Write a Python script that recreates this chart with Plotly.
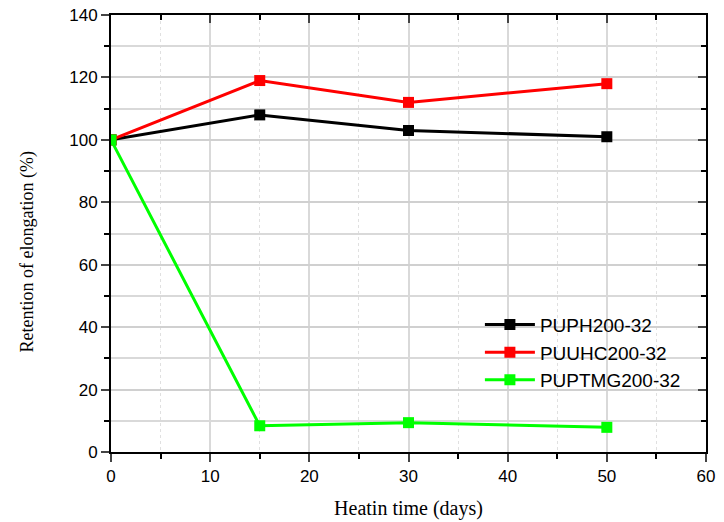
import plotly.graph_objects as go

days = [0, 15, 30, 50]
puph = [100, 108, 103, 101]
puuhc = [100, 119, 112, 118]
puptmg = [100, 8.4, 9.4, 7.9]

series = [("PUPH200-32", puph, "#000000"),
          ("PUUHC200-32", puuhc, "#ff0000"),
          ("PUPTMG200-32", puptmg, "#00ff00")]

fig = go.Figure()
for name, vals, col in series:
    fig.add_trace(go.Scatter(x=days, y=vals, name=name, mode="lines+markers",
                             line=dict(color=col, width=3),
                             marker=dict(symbol="square", size=11, color=col)))
# invisible trace for mirrored axes
fig.add_trace(go.Scatter(x=[0], y=[0], xaxis="x2", yaxis="y2", showlegend=False,
                         mode="markers", marker=dict(opacity=0), hoverinfo="skip"))

tickfont = dict(family="Liberation Sans, Arial", size=17, color="black")

fig.update_layout(
    width=724, height=522,
    margin=dict(l=111, r=18, t=15, b=70),
    plot_bgcolor="white", paper_bgcolor="white",
    showlegend=True,
    legend=dict(x=0.62, y=0.335, xanchor="left", yanchor="top",
                bgcolor="rgba(0,0,0,0)", font=dict(family="Liberation Sans, Arial", size=19, color="black"),
                itemwidth=50, tracegroupgap=0),
    xaxis=dict(range=[0, 60], dtick=10, tick0=0, ticks="outside", ticklen=8, tickwidth=2,
               showline=True, linecolor="black", linewidth=2, automargin=False,
               showgrid=True, gridcolor="#d9d9d9", gridwidth=1.5,
               minor=dict(dtick=5, ticks="outside", ticklen=5, tickwidth=2, tickcolor="black",
                          showgrid=True, gridcolor="#e0e0e0", griddash="dot", gridwidth=1),
               tickfont=tickfont, zeroline=False,
               title=dict(text="Heatin time (days)",
                          font=dict(family="Liberation Serif, Times New Roman", size=20, color="black"),
                          standoff=16)),
    yaxis=dict(range=[0, 140], dtick=20, tick0=0, ticks="outside", ticklen=8, tickwidth=2,
               showline=True, linecolor="black", linewidth=2, automargin=False,
               showgrid=True, gridcolor="#d0d0d0", gridwidth=1.5,
               minor=dict(dtick=10, ticks="outside", ticklen=5, tickwidth=2, tickcolor="black",
                          showgrid=True, gridcolor="#d9d9d9", gridwidth=1.5),
               tickfont=tickfont, zeroline=False),
    xaxis2=dict(range=[0, 60], dtick=10, overlaying="x", side="top", ticks="inside",
                ticklen=8, tickwidth=2, showline=True, linecolor="black", linewidth=2,
                showticklabels=False, showgrid=False, zeroline=False, automargin=False,
                minor=dict(dtick=5, ticks="inside", ticklen=5, tickwidth=2, tickcolor="black")),
    yaxis2=dict(range=[0, 140], dtick=20, overlaying="y", side="right", ticks="inside",
                ticklen=8, tickwidth=2, showline=True, linecolor="black", linewidth=2,
                showticklabels=False, showgrid=False, zeroline=False, automargin=False,
                minor=dict(dtick=10, ticks="inside", ticklen=5, tickwidth=2, tickcolor="black")),
    annotations=[dict(text="Retention of elongation (%)", textangle=-90,
                      xref="paper", yref="paper", x=-0.14, y=0.458,
                      xanchor="center", yanchor="middle", showarrow=False,
                      font=dict(family="Liberation Serif, Times New Roman", size=18, color="black"))],
)

fig.write_html("out.html")
